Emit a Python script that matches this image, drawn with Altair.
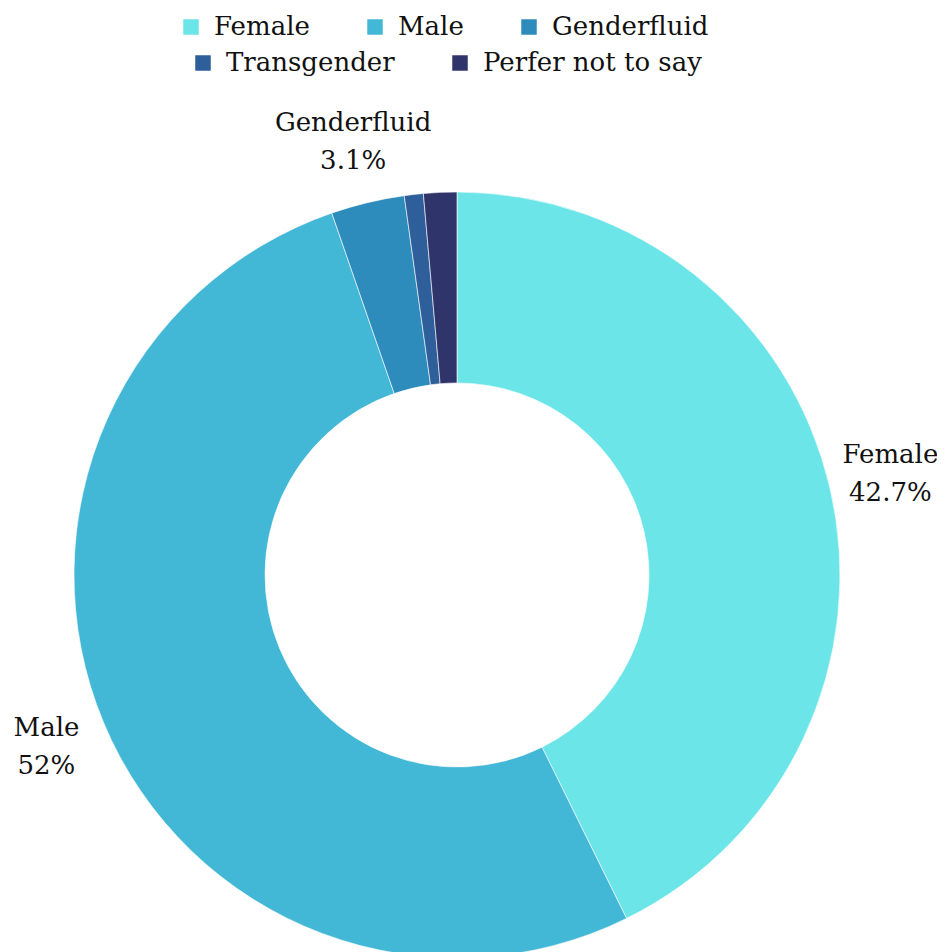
import altair as alt
import pandas as pd

categories = ["Female", "Male", "Genderfluid", "Transgender", "Perfer not to say"]
values = [42.7, 52.0, 3.1, 0.8, 1.4]
labels = ["Female\n42.7%", "Male\n52%", "Genderfluid\n3.1%", "", ""]
colors = ["#6be5e8", "#43b7d6", "#2d8cbb", "#2e5f9b", "#2f356b"]
legend_row1 = categories[:3]
legend_row2 = categories[3:]

df = pd.DataFrame({
    "category": categories,
    "value": values,
    "label": labels,
    "order": list(range(len(categories))),
})

FONT = "DejaVu Serif"
CX, CY = 449, 567

base = alt.Chart(df).encode(
    theta=alt.Theta("value:Q", stack=True),
    order=alt.Order("order:Q"),
)

arcs = base.mark_arc(
    outerRadius=383, innerRadius=192, stroke="white", strokeWidth=0.6
).encode(
    x=alt.value(CX),
    y=alt.value(CY),
    color=alt.Color(
        "category:N",
        scale=alt.Scale(domain=categories, range=colors),
        legend=None,
    ),
)

text = base.mark_text(
    radius=445, font=FONT, fontSize=26, color="#111111",
    lineBreak="\n", lineHeight=38, align="center", baseline="middle", dy=-19,
).encode(
    x=alt.value(CX),
    y=alt.value(CY),
    text="label:N",
)


def legend_layer(items, lx, ly):
    cols = [colors[categories.index(c)] for c in items]
    return alt.Chart(df).transform_filter(
        alt.FieldOneOfPredicate(field="category", oneOf=items)
    ).mark_square(size=0, opacity=1).encode(
        x=alt.value(0),
        y=alt.value(0),
        color=alt.Color(
            "category:N",
            scale=alt.Scale(domain=items, range=cols),
            legend=alt.Legend(
                title=None,
                orient="none",
                legendX=lx,
                legendY=ly,
                direction="horizontal",
                columnPadding=52,
                symbolType="square",
                symbolSize=240,
                symbolStrokeWidth=0,
                symbolOpacity=1,
                labelFont=FONT,
                labelFontSize=26,
                labelColor="#111111",
                labelOffset=10,
                labelLimit=400,
            ),
        ),
    )


leg1 = legend_layer(legend_row1, 170, 6)
leg2 = legend_layer(legend_row2, 182, 42)

chart = alt.layer(arcs, text, leg1, leg2).resolve_scale(
    color="independent"
).properties(
    width=929, height=944, padding=0,
    autosize=alt.AutoSizeParams(type="none"),
).configure_view(stroke=None)

chart.save("out.html", embed_options={"renderer": "svg", "actions": False})
